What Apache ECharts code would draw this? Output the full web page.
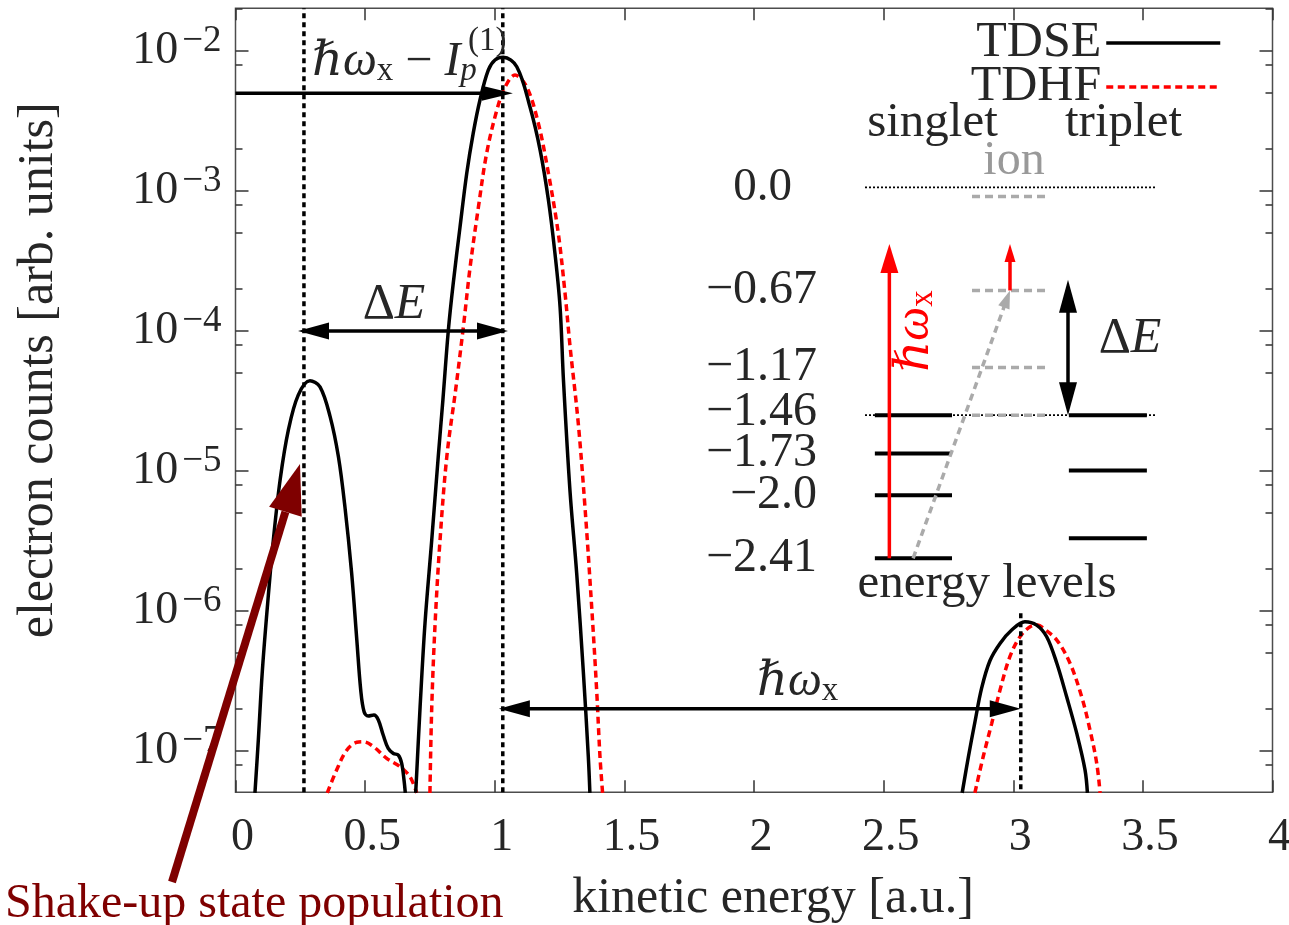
<!DOCTYPE html>
<html><head><meta charset="utf-8">
<script src="https://cdn.jsdelivr.net/npm/echarts@6/dist/echarts.min.js"></script>
<style>html,body{margin:0;padding:0;background:#fff}#c{width:1289px;height:925px}</style>
</head><body><div id="c"></div>
<script>
// ---------------- DATA (kinetic energy [a.u.], electron counts [arb. units]) ----------------
const tdseEnergy = [0.075,0.088,0.103,0.123,0.146,0.172,0.204,0.242,0.287,0.326,0.365,0.397,0.422,0.448,0.468,0.483,0.496,0.512,0.534,0.551,0.570,0.589,0.609,0.628,0.641,0.650,0.655,
  0.675,
  0.695,0.699,0.712,0.731,0.757,0.782,0.800,0.821,0.840,0.866,0.892,0.917,0.943,0.975,1.001,1.033,1.085,1.136,1.175,1.207,1.232,1.252,1.265,1.290,1.316,1.342,1.361,1.367,
  2.0,
  2.803,2.827,2.852,2.878,2.910,2.949,2.994,3.045,3.090,3.129,3.168,3.206,3.245,3.277,3.286];
const tdseCounts = [5e-8,1.19e-7,3.59e-7,1.07e-6,3.21e-6,8.59e-6,1.96e-5,3.48e-5,4.41e-5,3.99e-5,2.44e-5,1.26e-5,5.55e-6,1.86e-6,6.18e-7,2.72e-7,1.90e-7,1.77e-7,1.80e-7,1.66e-7,1.29e-7,1.04e-7,9.57e-8,9.31e-8,8.13e-8,6.18e-8,5e-8,
  null,
  5e-8,6.93e-8,2.05e-7,8.18e-7,3.21e-6,1.26e-5,3.21e-5,1.01e-4,2.20e-4,5.52e-4,1.34e-3,2.59e-3,4.47e-3,7.31e-3,8.63e-3,9.02e-3,7.72e-3,3.98e-3,1.96e-3,8.61e-4,3.61e-4,1.48e-4,4.46e-5,7.29e-6,1.86e-6,3.59e-7,9.02e-8,5e-8,
  null,
  5e-8,9.06e-8,1.60e-7,2.80e-7,4.40e-7,5.85e-7,7.29e-7,8.35e-7,7.91e-7,6.53e-7,4.22e-7,2.43e-7,1.33e-7,7.28e-8,5e-8];

const tdhfEnergy = [0.354,0.390,0.429,0.468,0.493,0.532,0.583,0.635,0.673,0.699,
  0.72,
  0.750,0.757,0.770,0.789,0.815,0.849,0.879,0.905,0.937,0.969,1.008,1.040,1.078,1.123,1.168,1.207,1.245,1.271,1.290,1.322,1.348,1.374,1.393,1.406,1.416,
  2.0,
  2.852,2.884,2.917,2.949,2.987,3.026,3.065,3.095,3.116,3.168,3.219,3.264,3.296,3.322,3.335];
const tdhfCounts = [5e-8,7.28e-8,1.01e-7,1.15e-7,1.16e-7,1.07e-7,8.83e-8,7.69e-8,6.52e-8,5e-8,
  null,
  5e-8,2.05e-7,8.18e-7,3.21e-6,1.26e-5,3.78e-5,1.07e-4,2.86e-4,7.67e-4,1.87e-3,3.78e-3,5.53e-3,6.73e-3,5.56e-3,3.05e-3,1.34e-3,5.00e-4,1.87e-4,7.92e-5,2.20e-5,5.51e-6,1.06e-6,2.72e-7,9.02e-8,5e-8,
  null,
  5e-8,9.06e-8,1.57e-7,2.72e-7,4.70e-7,6.53e-7,7.69e-7,7.91e-7,7.50e-7,6.18e-7,4.22e-7,2.43e-7,1.41e-7,8.13e-8,5e-8];

// axis ranges / ticks
const xTicks = [0, 0.5, 1, 1.5, 2, 2.5, 3, 3.5, 4];
const yRange = [5.05e-8, 2.02e-2];
const yDecades = [-7, -6, -5, -4, -3, -2];
const yMinorFactors = [2, 5, 8];

// guides in the main panel
const markerEnergies = [0.264, 1.031];          // full-height dashed guides
const partialMarker = [3.029, 9.6e-7];          // energy, top count
const arrowFrom = [[0, 5e-3], [0.241, 1e-4], [1.016, 2e-7]];
const arrowTo   = [[1.07, 5e-3], [1.051, 1e-4], [3.029, 2e-7]];

// energy level inset (a.u.)
const levelValues = [0, -0.67, -1.17, -1.46, -1.73, -2.0, -2.41];
const levelLabels = ['0.0', '−0.67', '−1.17', '−1.46', '−1.73', '−2.0', '−2.41'];
const singletLevels = [-1.48, -1.73, -2.0, -2.41];
const tripletLevels = [-1.48, -1.84, -2.28];
const ionLevels = [-0.06, -0.67, -1.17, -1.48];
const thresholdLevels = [0, -1.48];
const insetArrowFrom = [[0.084, -2.41], [0.5, -0.67], [0.166, -2.41], [0.70, -0.60]];
const insetArrowTo   = [[0.084, -0.368], [0.5, -0.368], [0.5, -0.67], [0.70, -1.48]];

// ---------------- STYLE / LAYOUT ----------------
const F = "'Liberation Serif','DejaVu Serif',serif";
const TXT = '#262626';
const colSinglet = [0.034, 0.300], colIon = [0.369, 0.631], colTriplet = [0.703, 0.972];

const L = v => (v == null ? null : Math.log10(v));
const yMin = L(yRange[0]), yMax = L(yRange[1]);
const minorLogs = [];
yDecades.concat([-8]).forEach(d => yMinorFactors.forEach(f => {
  const v = d + Math.log10(f);
  if (v > yMin && v < yMax) minorLogs.push(v);
}));
const majorLogs = yDecades.slice();

const tdse = tdseEnergy.map((x, i) => [x, L(tdseCounts[i])]);
const tdhf = tdhfEnergy.map((x, i) => [x, L(tdhfCounts[i])]);

// guide items: [x0, y0, x1, y1, styleIndex]
const guideData = [];
markerEnergies.forEach(e => guideData.push([e, yMin, e, yMax, 0]));
guideData.push([partialMarker[0], L(partialMarker[1]), partialMarker[0], yMin, 0]);
arrowFrom.forEach((p, i) => guideData.push([p[0], L(p[1]), arrowTo[i][0], L(arrowTo[i][1]), i === 0 ? 1 : 2]));
const guideStyles = [
  {color: '#000', width: 3.5, dash: [5, 4]},
  {color: '#000', width: 3.5, headEnd: true, len: 31, half: 7.5},
  {color: '#000', width: 3.5, headStart: true, headEnd: true, len: 31, half: 8.5}
];

// inset level items: [x0, x1, y, style]
const levelData = [];
thresholdLevels.forEach(y => levelData.push([0, 1, y, 2]));
ionLevels.forEach(y => levelData.push([colIon[0], colIon[1], y, 1]));
singletLevels.forEach(y => levelData.push([colSinglet[0], colSinglet[1], y, 0]));
tripletLevels.forEach(y => levelData.push([colTriplet[0], colTriplet[1], y, 0]));
const levelStyles = [
  {color: '#000', width: 4},
  {color: '#aaa', width: 3.5, dash: [8, 5]},
  {color: '#000', width: 1.8, dash: [2, 2]}
];
const insetArrowData = insetArrowFrom.map((p, i) => [p[0], p[1], insetArrowTo[i][0], insetArrowTo[i][1], i]);
const insetArrowStyles = [
  {color: '#ff0000', width: 3.5, headEnd: true, len: 29, half: 9},
  {color: '#ff0000', width: 3.5, headEnd: true, len: 18, half: 5.5},
  {color: '#aaa', width: 3.5, dash: [7, 5], headEnd: true, len: 18, half: 6},
  {color: '#000', width: 3.5, headStart: true, headEnd: true, len: 33, half: 9}
];

function arrowRender(styles) {
  return function (params, api) {
    const a = api.coord([api.value(0), api.value(1)]);
    const b = api.coord([api.value(2), api.value(3)]);
    const st = styles[api.value(4)];
    const dx = b[0] - a[0], dy = b[1] - a[1], len = Math.hypot(dx, dy) || 1;
    const ux = dx / len, uy = dy / len, nx = -uy, ny = ux;
    let s = a, e = b;
    if (st.headStart) s = [a[0] + ux * st.len * 0.7, a[1] + uy * st.len * 0.7];
    if (st.headEnd) e = [b[0] - ux * st.len * 0.7, b[1] - uy * st.len * 0.7];
    const children = [{type: 'line', shape: {x1: s[0], y1: s[1], x2: e[0], y2: e[1]},
      style: {stroke: st.color, lineWidth: st.width, lineDash: st.dash || null}}];
    const head = (tip, sx, sy) => ({type: 'polygon', shape: {points: [
      tip,
      [tip[0] - sx * st.len + nx * st.half, tip[1] - sy * st.len + ny * st.half],
      [tip[0] - sx * st.len - nx * st.half, tip[1] - sy * st.len - ny * st.half]]},
      style: {fill: st.color}});
    if (st.headEnd) children.push(head(b, ux, uy));
    if (st.headStart) children.push(head(a, -ux, -uy));
    return {type: 'group', children};
  };
}
function levelRender(params, api) {
  const a = api.coord([api.value(0), api.value(2)]);
  const b = api.coord([api.value(1), api.value(2)]);
  const st = levelStyles[api.value(3)];
  return {type: 'line', shape: {x1: a[0], y1: a[1], x2: b[0], y2: b[1]},
    style: {stroke: st.color, lineWidth: st.width, lineDash: st.dash || null}};
}

const tickStyle = {color: '#333', width: 1.5};
const baseLabel = {fontFamily: F, fontSize: 46, color: TXT};

const option = {
  animation: false,
  backgroundColor: '#fff',
  grid: [
    {left: 235.5, top: 8.3, width: 1037, height: 784, show: true, borderColor: '#4d4d4d', borderWidth: 1.5, backgroundColor: 'transparent', outerBoundsMode: 'none', containLabel: false},
    {left: 865, top: 187.3, width: 290, height: 371, show: false, outerBoundsMode: 'none', containLabel: false}
  ],
  legend: {
    data: ['TDSE', 'TDHF'], orient: 'vertical', right: 62, top: 13, align: 'right',
    itemWidth: 114, itemHeight: 16, itemGap: -6, selectedMode: false, padding: 5,
    textStyle: {fontFamily: F, fontSize: 50, color: TXT},
    itemStyle: {opacity: 0},
    lineStyle: {width: 3.5}
  },
  xAxis: [
    {type: 'value', gridIndex: 0, position: 'bottom', min: xTicks[0], max: xTicks[xTicks.length - 1], interval: 0.5,
     axisLine: {show: false}, splitLine: {show: false},
     axisTick: {inside: true, length: 12, lineStyle: tickStyle},
     axisLabel: Object.assign({margin: 23, padding: [0, 0, 0, 14]}, baseLabel),
     name: 'kinetic energy [a.u.]', nameLocation: 'middle', nameGap: 82,
     nameTextStyle: {fontFamily: F, fontSize: 50, color: TXT, padding: [0, 0, 0, 38]}},
    {type: 'value', gridIndex: 0, position: 'top', min: xTicks[0], max: xTicks[xTicks.length - 1], interval: 0.5,
     axisLine: {show: false}, splitLine: {show: false},
     axisTick: {inside: true, length: 12, lineStyle: tickStyle}, axisLabel: {show: false}},
    {type: 'value', gridIndex: 1, min: 0, max: 1, show: false}
  ],
  yAxis: [
    {type: 'value', gridIndex: 0, position: 'left', min: yMin, max: yMax,
     axisLine: {show: false}, splitLine: {show: false},
     axisTick: {inside: true, length: 13, lineStyle: tickStyle, customValues: majorLogs},
     axisLabel: {customValues: majorLogs, margin: 14,
       formatter: v => '{b|10}{s|−' + Math.round(-v) + '}',
       rich: {b: {fontFamily: F, fontSize: 46, color: TXT, lineHeight: 56},
              s: {fontFamily: F, fontSize: 37, color: TXT, lineHeight: 33, verticalAlign: 'top', padding: [0, 0, 0, 4]}}},
     name: 'electron counts [arb. units]', nameLocation: 'middle', nameGap: 172,
     nameTextStyle: {fontFamily: F, fontSize: 50, color: TXT, padding: [0, 0, 0, 60]}},
    {type: 'value', gridIndex: 0, position: 'left', min: yMin, max: yMax,
     axisLine: {show: false}, splitLine: {show: false}, axisLabel: {show: false},
     axisTick: {inside: true, length: 7, lineStyle: tickStyle, customValues: minorLogs}},
    {type: 'value', gridIndex: 0, position: 'right', min: yMin, max: yMax,
     axisLine: {show: false}, splitLine: {show: false}, axisLabel: {show: false},
     axisTick: {inside: true, length: 13, lineStyle: tickStyle, customValues: majorLogs}},
    {type: 'value', gridIndex: 0, position: 'right', min: yMin, max: yMax,
     axisLine: {show: false}, splitLine: {show: false}, axisLabel: {show: false},
     axisTick: {inside: true, length: 7, lineStyle: tickStyle, customValues: minorLogs}},
    {type: 'value', gridIndex: 1, position: 'left', min: levelValues[levelValues.length - 1], max: levelValues[0],
     axisLine: {show: false}, splitLine: {show: false}, axisTick: {show: false},
     axisLabel: {customValues: levelValues, margin: 48,
       formatter: v => {
         const i = levelValues.findIndex(t => Math.abs(t - v) < 1e-6);
         const t = i < 0 ? '' : levelLabels[i];
         return v === 0 ? '{z|' + t + '}' : '{n|' + t + '}';
       },
       rich: {n: {fontFamily: F, fontSize: 48, color: TXT},
              z: {fontFamily: F, fontSize: 47, color: TXT, padding: [0, 25, 0, 0]}}}}
  ],
  series: [
    {name: 'TDSE', type: 'line', xAxisIndex: 0, yAxisIndex: 0, data: tdse, symbol: 'none', showSymbol: false,
     smooth: 0.35, connectNulls: false, clip: true, lineStyle: {color: '#000', width: 3.5}, itemStyle: {color: '#000'}, z: 3},
    {name: 'TDHF', type: 'line', xAxisIndex: 0, yAxisIndex: 0, data: tdhf, symbol: 'none', showSymbol: false,
     smooth: 0.35, connectNulls: false, clip: true, lineStyle: {color: '#ff0000', width: 3.5, type: [7, 4.5]}, itemStyle: {color: '#ff0000'}, z: 2},
    {name: 'guides', type: 'custom', xAxisIndex: 0, yAxisIndex: 0, data: guideData, silent: true,
     encode: {x: [0, 2], y: [1, 3]}, renderItem: arrowRender(guideStyles), z: 4},
    {name: 'levels', type: 'custom', xAxisIndex: 2, yAxisIndex: 4, data: levelData, silent: true,
     encode: {x: [0, 1], y: 2}, renderItem: levelRender, z: 4},
    {name: 'transitions', type: 'custom', xAxisIndex: 2, yAxisIndex: 4, data: insetArrowData, silent: true,
     encode: {x: [0, 2], y: [1, 3]}, renderItem: arrowRender(insetArrowStyles), z: 5}
  ],
  graphic: [
    {type: 'text', x: 312, y: 37.5, z: 50, style: {text: '{m|ℏω}{sub|x}{r| − }{m|I}{subi|p}', align: 'left', verticalAlign: 'top',
      rich: {m: {fontFamily: F, fontSize: 48, fontStyle: 'italic', lineHeight: 50, fill: TXT},
             r: {fontFamily: F, fontSize: 48, lineHeight: 50, fill: TXT},
             sub: {fontFamily: F, fontSize: 33, lineHeight: 26, verticalAlign: 'bottom', fill: TXT},
             subi: {fontFamily: F, fontSize: 33, fontStyle: 'italic', lineHeight: 26, verticalAlign: 'bottom', fill: TXT}}}},
    {type: 'text', x: 468, y: 41, z: 50, style: {text: '(1)', fontFamily: F, fontSize: 33, fill: TXT, align: 'left', verticalAlign: 'middle'}},
    {type: 'text', x: 394, y: 305, z: 50, style: {text: '{r|Δ}{i|E}', align: 'center', verticalAlign: 'middle',
      rich: {r: {fontFamily: F, fontSize: 50, fill: TXT}, i: {fontFamily: F, fontSize: 50, fontStyle: 'italic', fill: TXT}}}},
    {type: 'text', x: 757, y: 657.5, z: 50, style: {text: '{m|ℏω}{sub|x}', align: 'left', verticalAlign: 'top',
      rich: {m: {fontFamily: F, fontSize: 48, fontStyle: 'italic', lineHeight: 50, fill: TXT},
             sub: {fontFamily: F, fontSize: 33, lineHeight: 26, verticalAlign: 'bottom', fill: TXT}}}},
    {type: 'text', x: 932.5, y: 123, z: 50, style: {text: 'singlet', fontFamily: F, fontSize: 49, fill: TXT, align: 'center', verticalAlign: 'middle'}},
    {type: 'text', x: 1123.5, y: 123, z: 50, style: {text: 'triplet', fontFamily: F, fontSize: 49, fill: TXT, align: 'center', verticalAlign: 'middle'}},
    {type: 'text', x: 1014, y: 161.5, z: 50, style: {text: 'ion', fontFamily: F, fontSize: 48, fill: '#999', align: 'center', verticalAlign: 'middle'}},
    {type: 'text', x: 987, y: 584, z: 50, style: {text: 'energy levels', fontFamily: F, fontSize: 49, fill: TXT, align: 'center', verticalAlign: 'middle'}},
    {type: 'text', x: 1130, y: 339, z: 50, style: {text: '{r|Δ}{i|E}', align: 'center', verticalAlign: 'middle',
      rich: {r: {fontFamily: F, fontSize: 50, fill: TXT}, i: {fontFamily: F, fontSize: 50, fontStyle: 'italic', fill: TXT}}}},
    {type: 'text', x: 915, y: 331, z: 50, rotation: Math.PI / 2, style: {text: '{m|ℏω}{sub|x}', align: 'center', verticalAlign: 'middle',
      rich: {m: {fontFamily: F, fontSize: 48, fontStyle: 'italic', lineHeight: 50, fill: '#ff0000'},
             sub: {fontFamily: F, fontSize: 33, lineHeight: 26, verticalAlign: 'bottom', fill: '#ff0000'}}}},
    {type: 'text', x: 5, y: 904, z: 60, style: {text: 'Shake-up state population', fontFamily: F, fontSize: 48, fill: '#7f0000', align: 'left', verticalAlign: 'middle'}},
    {type: 'line', z: 60, shape: {x1: 172, y1: 882, x2: 285.4, y2: 511.8}, style: {stroke: '#7f0000', lineWidth: 8}},
    {type: 'polygon', z: 60, shape: {points: [[300, 464], [301.7, 516.8], [269.1, 506.8]]}, style: {fill: '#7f0000'}}
  ]
};

const chart = echarts.init(document.getElementById('c'), null, {renderer: 'canvas'});
chart.setOption(option);
</script>
</body></html>
